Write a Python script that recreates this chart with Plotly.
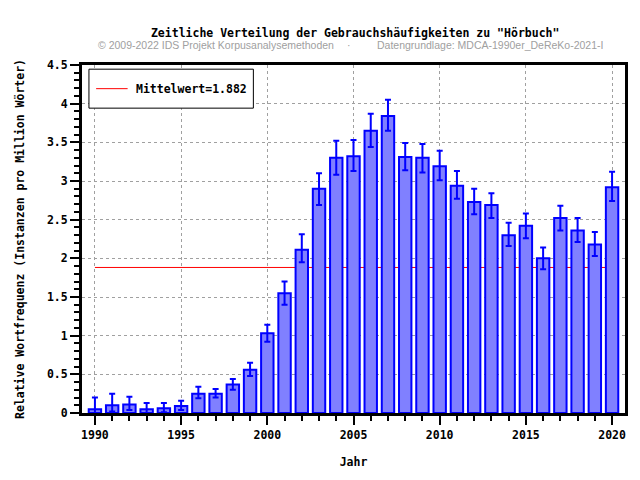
import plotly.graph_objects as go

years = list(range(1990, 2021))
values = [0.05, 0.10, 0.11, 0.05, 0.06, 0.09, 0.25, 0.25, 0.37, 0.56,
          1.03, 1.55, 2.11, 2.90, 3.30, 3.32, 3.65, 3.84, 3.31, 3.30,
          3.19, 2.94, 2.73, 2.69, 2.30, 2.42, 2.00, 2.52, 2.36, 2.18, 2.92]
upper = [0.20, 0.25, 0.21, 0.13, 0.13, 0.16, 0.34, 0.31, 0.44, 0.65,
         1.14, 1.70, 2.31, 3.10, 3.52, 3.53, 3.87, 4.05, 3.49, 3.48,
         3.39, 3.13, 2.90, 2.84, 2.46, 2.58, 2.14, 2.68, 2.52, 2.34, 3.12]
lower = [0.00, 0.02, 0.04, 0.00, 0.01, 0.04, 0.19, 0.20, 0.30, 0.48,
         0.92, 1.40, 1.95, 2.69, 3.08, 3.13, 3.44, 3.65, 3.14, 3.11,
         3.01, 2.77, 2.57, 2.52, 2.16, 2.26, 1.86, 2.36, 2.21, 2.03, 2.74]
mean_value = 1.882
x_ticks = [1990, 1995, 2000, 2005, 2010, 2015, 2020]
y_ticks = [0, 0.5, 1, 1.5, 2, 2.5, 3, 3.5, 4, 4.5]

MONO = "DejaVu Sans Mono"
SANS = "Liberation Sans"
RED = "#ff0000"
X_RANGE = [1989.25, 2020.75]
Y_RANGE = [0, 4.5]

err_plus = [u - v for u, v in zip(upper, values)]
err_minus = [v - l for v, l in zip(values, lower)]

fig = go.Figure()
# mean line on the base subplot (drawn behind the bars, which live on an overlay)
fig.add_trace(go.Scatter(
    x=[years[0], years[-1]], y=[mean_value, mean_value], mode="lines",
    line=dict(color=RED, width=1), showlegend=False, hoverinfo="skip",
))
fig.add_trace(go.Bar(
    x=years, y=values, width=0.72, xaxis="x2", yaxis="y2",
    marker=dict(color="#8080ff", line=dict(color="#0000ff", width=2)),
    error_y=dict(type="data", array=err_plus, arrayminus=err_minus,
                 color="#0000ff", thickness=2, width=3),
    showlegend=False,
))

# legend box (drawn manually to match the reference box size)
LX0, LX1 = 0.0128, 0.3156
LY0, LY1 = 0.876, 0.988
fig.add_shape(type="rect", xref="paper", yref="paper", x0=LX0, x1=LX1, y0=LY0, y1=LY1,
              fillcolor="white", line=dict(color="black", width=1), layer="above")
fig.add_shape(type="line", xref="paper", yref="paper", x0=0.026, x1=0.084,
              y0=(LY0 + LY1) / 2, y1=(LY0 + LY1) / 2,
              line=dict(color=RED, width=1), layer="above")
fig.add_annotation(text=f"Mittelwert={mean_value:.3f}", xref="paper", yref="paper",
                   x=0.0965, y=(LY0 + LY1) / 2, xanchor="left", yanchor="middle",
                   showarrow=False,
                   font=dict(family=MONO, size=11.5, color="black", weight="bold"))

axis_common = dict(
    showline=True, linecolor="black", linewidth=3, mirror=True,
    ticks="outside", ticklen=9, tickwidth=2, tickcolor="black",
    showgrid=True, gridcolor="#a0a0a0", griddash="dot", gridwidth=1,
    zeroline=False,
    tickfont=dict(family=MONO, size=11.5, color="black", weight="bold"),
)

fig.update_layout(
    width=640, height=480,
    margin=dict(l=82, r=13, t=65, b=67, pad=0),
    paper_bgcolor="white", plot_bgcolor="white",
    font=dict(family=MONO, size=11.5, color="black"),
    showlegend=False,
    title=dict(text='Zeitliche Verteilung der Gebrauchshäufigkeiten zu "Hörbuch"',
               x=0.555, y=0.931, xanchor="center", yanchor="middle",
               font=dict(family=MONO, size=11.5, color="black", weight="bold")),
    xaxis=dict(range=X_RANGE, tickvals=x_ticks,
               minor=dict(dtick=1, tick0=1990, ticks="outside", ticklen=5, tickwidth=2,
                          tickcolor="black", showgrid=False),
               title=dict(text="Jahr", standoff=18,
                          font=dict(family=MONO, size=11.5, color="black", weight="bold")),
               **axis_common),
    yaxis=dict(range=Y_RANGE, tickvals=y_ticks,
               minor=dict(dtick=0.1, tick0=0, ticks="outside", ticklen=5, tickwidth=2,
                          tickcolor="black", showgrid=False),
               title=dict(text="Relative Wortfrequenz (Instanzen pro Million Wörter)", standoff=20,
                          font=dict(family=MONO, size=11.5, color="black", weight="bold")),
               **axis_common),
    xaxis2=dict(overlaying="x", range=X_RANGE, visible=False, showgrid=False, zeroline=False),
    yaxis2=dict(overlaying="y", range=Y_RANGE, visible=False, showgrid=False, zeroline=False),
)

sub_font = dict(family=SANS, size=10.5, color="#a0a0a0", weight="normal")
fig.add_annotation(text="© 2009-2022 IDS Projekt Korpusanalysemethoden",
                   xref="paper", yref="paper", x=0.0257, y=1.057,
                   xanchor="left", yanchor="middle", showarrow=False, font=sub_font)
fig.add_annotation(text="·", xref="paper", yref="paper", x=0.492, y=1.057,
                   xanchor="center", yanchor="middle", showarrow=False, font=sub_font)
fig.add_annotation(text="Datengrundlage: MDCA-1990er_DeReKo-2021-I",
                   xref="paper", yref="paper", x=0.539, y=1.057,
                   xanchor="left", yanchor="middle", showarrow=False, font=sub_font)

fig.write_html("out.html")
